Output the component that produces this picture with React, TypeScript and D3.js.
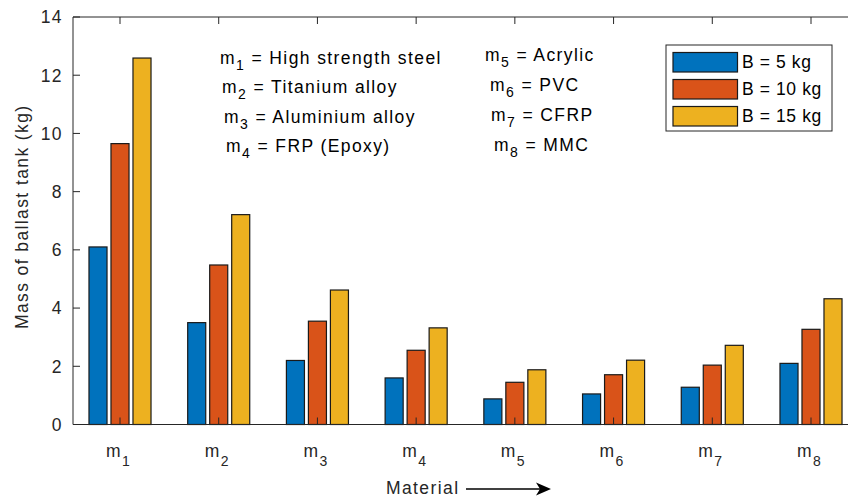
import React from 'react';
import * as d3 from 'd3';

// materials m1..m8
const materials = ['1', '2', '3', '4', '5', '6', '7', '8'];
const seriesNames = ['B = 5 kg', 'B = 10 kg', 'B = 15 kg'];
const b5 = [6.1, 3.5, 2.2, 1.6, 0.88, 1.05, 1.28, 2.1];
const b10 = [9.65, 5.48, 3.55, 2.55, 1.45, 1.71, 2.04, 3.27];
const b15 = [12.59, 7.21, 4.62, 3.32, 1.88, 2.21, 2.72, 4.32];
const yTicks = [0, 2, 4, 6, 8, 10, 12, 14];
const notesLeft = [
  ['1', 'High strength steel'],
  ['2', 'Titanium alloy'],
  ['3', 'Aluminium alloy'],
  ['4', 'FRP (Epoxy)'],
];
const notesRight = [
  ['5', 'Acrylic'],
  ['6', 'PVC'],
  ['7', 'CFRP'],
  ['8', 'MMC'],
];

const W = 848;
const H = 499;
const colors = ['#0072BD', '#D95319', '#EDB120'];
const axisColor = '#262626';
const font = '"Liberation Sans", Arial, Helvetica, sans-serif';
const fs = 17.5;
const ls = 1.4;

const App = () => {
  const left = 73;
  const top = 17;
  const bottom = 424.5;

  const y = d3.scaleLinear().domain([0, 14]).range([bottom, top]);
  const x = d3.scaleLinear().domain([1, 8]).range([120, 811]);
  const right = x(8.5);
  const x1 = d3
    .scaleBand()
    .domain(seriesNames)
    .range([-33, 33])
    .paddingInner(0.18)
    .paddingOuter(0.09);

  const series = [b5, b10, b15];

  const sub = (n, size = 14, dy = 6) => [
    <tspan key="m">m</tspan>,
    <tspan key="s" dy={dy} fontSize={size}>{n}</tspan>,
  ];

  return (
    <svg
      width={W}
      height={H}
      style={{ position: 'absolute', left: 0, top: 0, background: 'white' }}
      fontFamily={font}
    >
      {/* bars */}
      {series.map((vals, si) =>
        vals.map((v, i) => (
          <rect
            key={si + '-' + i}
            x={x(i + 1) + x1(seriesNames[si])}
            y={y(v)}
            width={x1.bandwidth()}
            height={y(0) - y(v)}
            fill={colors[si]}
            stroke="#1a1a1a"
            strokeWidth={1.2}
          />
        ))
      )}

      {/* axes frame */}
      <line x1={left} x2={right} y1={bottom} y2={bottom} stroke={axisColor} strokeWidth={1} />
      <line x1={left} x2={right} y1={top} y2={top} stroke={axisColor} strokeWidth={1} />
      <line x1={left} x2={left} y1={top} y2={bottom} stroke={axisColor} strokeWidth={1} />

      {yTicks.map((t) => (
        <g key={t}>
          <line x1={left} x2={left + 7} y1={y(t)} y2={y(t)} stroke={axisColor} />
          <text
            x={63}
            y={y(t)}
            dy="0.36em"
            textAnchor="end"
            fontSize={fs}
            letterSpacing={ls}
            fill={axisColor}
          >
            {t}
          </text>
        </g>
      ))}

      {materials.map((m, i) => (
        <g key={m}>
          <line x1={x(i + 1)} x2={x(i + 1)} y1={bottom} y2={bottom - 7} stroke={axisColor} />
          <line x1={x(i + 1)} x2={x(i + 1)} y1={top} y2={top + 7} stroke={axisColor} />
          <text
            x={x(i + 1) - 14}
            y={457}
            fontSize={fs}
            letterSpacing={ls}
            fill={axisColor}
          >
            {sub(m, 14, 9)}
          </text>
        </g>
      ))}

      {/* y label */}
      <text
        transform={`translate(28,${(top + bottom) / 2 - 4}) rotate(-90)`}
        textAnchor="middle"
        fontSize={fs}
        letterSpacing={ls}
        fill={axisColor}
      >
        Mass of ballast tank (kg)
      </text>

      {/* x label with arrow */}
      <text x={386} y={494} fontSize={fs} letterSpacing={ls} fill={axisColor}>
        Material
      </text>
      <line x1={466} x2={540} y1={489} y2={489} stroke="#000" strokeWidth={1.3} />
      <path d="M536,482.5 L551,489 L536,495.5 L540,489 Z" fill="#000" />

      {/* material notes */}
      {notesLeft.map(([n, label], i) => (
        <text key={n} x={220 + i * 2} y={64 + i * 29.3} fontSize={fs} letterSpacing={ls} fill="#000">
          {sub(n)}
          <tspan dy={-6}>{' = ' + label}</tspan>
        </text>
      ))}
      {notesRight.map(([n, label], i) => (
        <text key={n} x={[485, 490, 491, 494][i]} y={61 + i * 30} fontSize={fs} letterSpacing={ls} fill="#000">
          {sub(n)}
          <tspan dy={-6}>{' = ' + label}</tspan>
        </text>
      ))}

      {/* legend */}
      <rect x={666} y={45} width={166} height={86} fill="white" stroke={axisColor} strokeWidth={1} />
      {seriesNames.map((s, i) => (
        <g key={s}>
          <rect
            x={673}
            y={52.5 + i * 27}
            width={64.5}
            height={19.5}
            fill={colors[i]}
            stroke="#1a1a1a"
            strokeWidth={1.2}
          />
          <text x={742} y={67.5 + i * 27} fontSize={fs} letterSpacing={0.6} fill="#000">
            {s}
          </text>
        </g>
      ))}
    </svg>
  );
};

export default App;
